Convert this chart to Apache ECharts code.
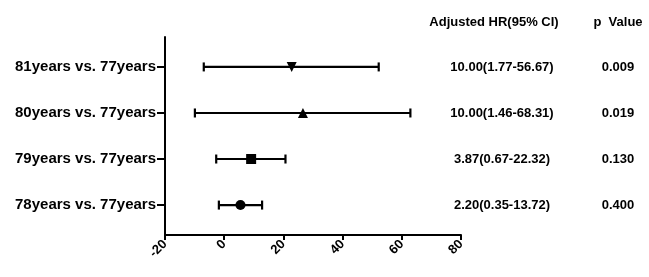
<!DOCTYPE html>
<html><head><meta charset="utf-8">
<script src="https://cdn.jsdelivr.net/npm/echarts@6/dist/echarts.min.js"></script>
<style>html,body{margin:0;padding:0;background:#fff}#c{width:649px;height:277px}</style>
</head><body><div id="c"></div>
<script>
// rows from bottom (y=1) to top (y=4)
var categories = ['78years vs. 77years', '79years vs. 77years', '80years vs. 77years', '81years vs. 77years'];
var hrValues = [5.5, 9.1, 26.6, 22.8];
var lowerValues = [-1.8, -2.7, -9.9, -6.9];
var upperValues = [12.8, 20.7, 62.9, 52.2];
var markerShapes = ['circle', 'rect', 'triangle', 'triangle'];
var markerRotations = [0, 0, 0, 180];
var hrText = ['2.20(0.35-13.72)', '3.87(0.67-22.32)', '10.00(1.46-68.31)', '10.00(1.77-56.67)'];
var pText = ['0.400', '0.130', '0.019', '0.009'];
var xTicks = [-20, 0, 20, 40, 60, 80];
var headers = ['Adjusted HR(95% CI)', 'p  Value'];

var FONT = '"Liberation Sans", Arial, sans-serif';
var rowIdx = categories.map(function (c, i) { return i + 1; });
var chart = echarts.init(document.getElementById('c'));

var barData = rowIdx.map(function (y, i) { return [y, lowerValues[i], upperValues[i]]; });
var pointData = rowIdx.map(function (y, i) {
  return { value: [hrValues[i], y], symbol: markerShapes[i], symbolRotate: markerRotations[i] };
});
var textData = rowIdx.map(function (y, i) { return [y, i]; });

chart.setOption({
  animation: false,
  backgroundColor: '#fff',
  grid: { left: 165, right: 188, top: 37, bottom: 42 },
  xAxis: {
    type: 'value', min: xTicks[0], max: xTicks[xTicks.length - 1], interval: 20,
    axisLine: { show: true, onZero: false, lineStyle: { color: '#000', width: 2 } },
    axisTick: { show: true, length: 5, lineStyle: { color: '#000', width: 2 } },
    axisLabel: { rotate: 45, margin: 7, color: '#000', fontWeight: 'bold', fontSize: 13, fontFamily: FONT },
    splitLine: { show: false }
  },
  yAxis: {
    type: 'value', min: 0.35, max: 4.65,
    axisLine: { show: true, onZero: false, lineStyle: { color: '#000', width: 2 } },
    axisTick: { show: true, length: 8, customValues: rowIdx, lineStyle: { color: '#000', width: 2 } },
    axisLabel: {
      customValues: rowIdx, margin: 9, color: '#000', fontWeight: 'bold', fontSize: 15, fontFamily: FONT,
      formatter: function (v) { return categories[Math.round(v) - 1] || ''; }
    },
    splitLine: { show: false }
  },
  graphic: [
    { type: 'text', style: { text: headers[0], x: 494, y: 22, align: 'center', verticalAlign: 'middle', fill: '#000', font: 'bold 13px ' + FONT } },
    { type: 'text', style: { text: headers[1], x: 618, y: 22, align: 'center', verticalAlign: 'middle', fill: '#000', font: 'bold 13px ' + FONT } }
  ],
  series: [
    {
      type: 'custom', clip: false, data: barData, encode: { x: [1, 2], y: 0 },
      renderItem: function (params, api) {
        var y = api.value(0);
        var a = api.coord([api.value(1), y]);
        var b = api.coord([api.value(2), y]);
        var h = 4.5;
        var st = { stroke: '#000', lineWidth: 2.2 };
        return { type: 'group', children: [
          { type: 'line', shape: { x1: a[0], y1: a[1], x2: b[0], y2: b[1] }, style: st },
          { type: 'line', shape: { x1: a[0], y1: a[1] - h, x2: a[0], y2: a[1] + h }, style: st },
          { type: 'line', shape: { x1: b[0], y1: b[1] - h, x2: b[0], y2: b[1] + h }, style: st }
        ] };
      },
      z: 2
    },
    {
      type: 'scatter', data: pointData, symbolSize: 10,
      itemStyle: { color: '#000', opacity: 1 }, z: 3
    },
    {
      type: 'custom', clip: false, data: textData, encode: { y: 0 },
      renderItem: function (params, api) {
        var y = api.value(0);
        var i = api.value(1);
        var p = api.coord([0, y]);
        return { type: 'group', children: [
          { type: 'text', style: { text: hrText[i], x: 502, y: p[1], align: 'center', verticalAlign: 'middle', fill: '#000', font: 'bold 13px ' + FONT } },
          { type: 'text', style: { text: pText[i], x: 618, y: p[1], align: 'center', verticalAlign: 'middle', fill: '#000', font: 'bold 13px ' + FONT } }
        ] };
      }
    }
  ]
});
</script></body></html>
